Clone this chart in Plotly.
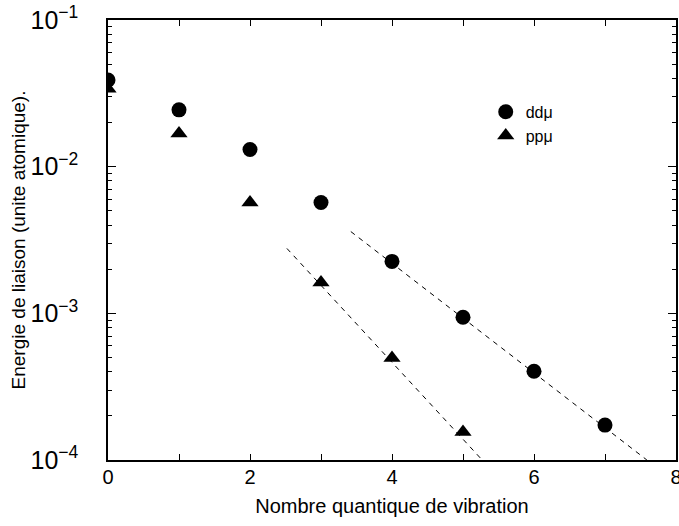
import plotly.graph_objects as go

# niveaux de vibration
v_dd = [0, 1, 2, 3, 4, 5, 6, 7]
e_dd = [0.039, 0.0244, 0.0131, 0.0057, 0.00226, 0.00094, 0.000403, 0.000173]

v_pp = [0, 1, 2, 3, 4, 5]
e_pp = [0.034, 0.0168, 0.0057, 0.00162, 0.000495, 0.000155]

# droites d'ajustement (extremites)
fit_dd_x = [3.42, 7.59]
fit_dd_y = [0.00361, 0.0001]
fit_pp_x = [2.52, 5.27]
fit_pp_y = [0.00277, 0.0001]

FONT = "Liberation Sans, Arial, sans-serif"

fig = go.Figure()

fig.add_trace(go.Scatter(x=fit_dd_x, y=fit_dd_y, mode="lines",
                         line=dict(color="black", width=1, dash="5px,5px"), showlegend=False))
fig.add_trace(go.Scatter(x=fit_pp_x, y=fit_pp_y, mode="lines",
                         line=dict(color="black", width=1, dash="5px,5px"), showlegend=False))

fig.add_trace(go.Scatter(x=v_dd, y=e_dd, mode="markers", name="ddμ",
                         marker=dict(symbol="circle", size=15, color="black")))
fig.add_trace(go.Scatter(x=v_pp, y=e_pp, mode="markers", name="ppμ",
                         marker=dict(symbol="triangle-up", size=15, color="black")))

axis_common = dict(showline=True, linecolor="black", linewidth=1.5, mirror="ticks",
                   ticks="inside", tickcolor="black", showgrid=False, zeroline=False,
                   automargin=False, ticklabeloverflow="allow",
                   tickfont=dict(family=FONT, size=20, color="black"))

fig.update_xaxes(range=[0, 8], dtick=2, tick0=0, ticklen=6, tickwidth=1, ticklabelstandoff=-2,
                 minor=dict(dtick=1, ticks="inside", ticklen=6, tickcolor="black", showgrid=False),
                 title=dict(text="Nombre quantique de vibration",
                            font=dict(family=FONT, size=20, color="black"), standoff=12),
                 **axis_common)
fig.update_yaxes(type="log", range=[-4, -1], dtick=1, exponentformat="power",
                 ticklen=8, tickwidth=1, ticklabelstandoff=24,
                 minor=dict(ticks="inside", ticklen=4, tickcolor="black", showgrid=False),
                 title=dict(text="Energie de liaison (unite atomique).",
                            font=dict(family=FONT, size=19, color="black"), standoff=0),
                 **axis_common)

fig.update_layout(
    width=679, height=526,
    margin=dict(l=108, r=3, t=20, b=66),
    plot_bgcolor="white", paper_bgcolor="white",
    font=dict(family=FONT, color="black"),
    legend=dict(x=0.665, y=0.83, xanchor="left", yanchor="top",
                bgcolor="rgba(0,0,0,0)", font=dict(family=FONT, size=16),
                itemwidth=30, tracegroupgap=0),
)

# pas de marge autour du graphique dans la page
fig.write_html("out.html", config={"displayModeBar": False},
               post_script="document.body.style.margin='0';document.body.style.overflow='hidden';")
